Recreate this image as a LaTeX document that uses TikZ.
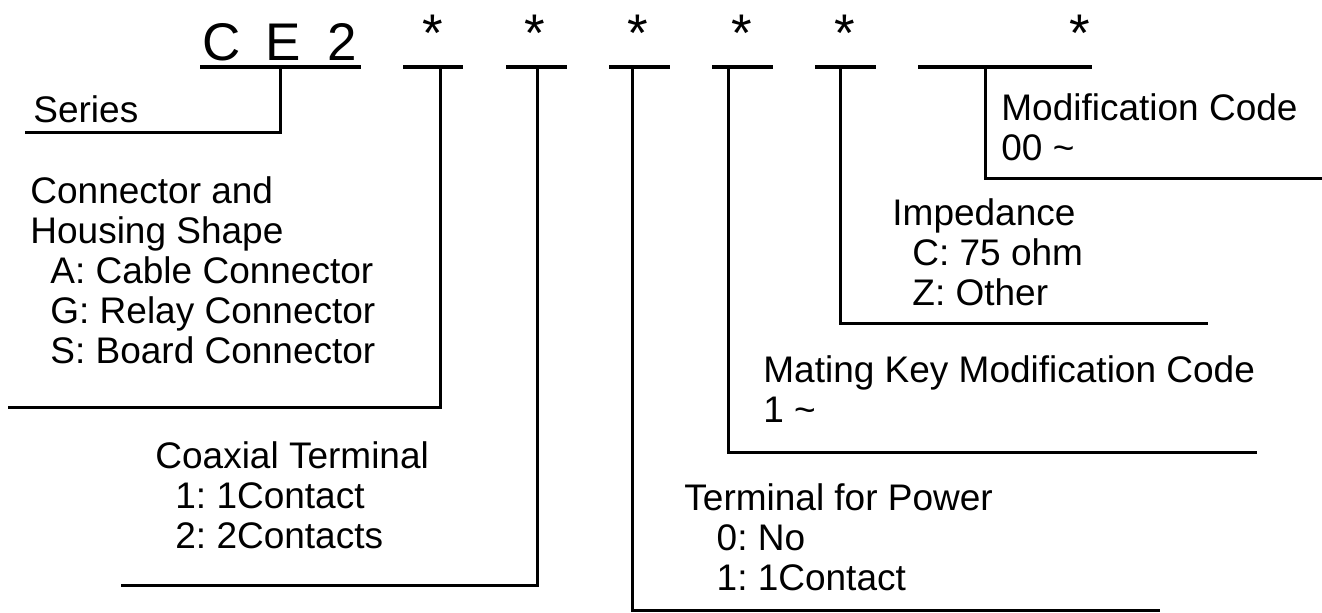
\documentclass[tikz,border=0pt]{standalone}
\usepackage{fontspec}
\setmainfont{Liberation Sans}
\frenchspacing
\newcommand{\codeind}[1][10pt]{\hspace*{#1}}

\begin{document}
\begin{tikzpicture}[x=0.5pt,y=-0.5pt,
	lbl/.style={anchor=base west,align=left,inner sep=0pt,font=\fontsize{18.5}{20}\selectfont},
	big/.style={inner sep=0pt,font=\fontsize{26.5}{30}\selectfont},
	bar/.style={line width=2pt},
	lead/.style={line width=1.5pt}]
	\useasboundingbox (0,0) rectangle (1322,612);
	% part number
	\node[big,anchor=base] (ltC) at (222,60) {C};
	\node[big,anchor=base] (ltE) at (283,60) {E};
	\node[big,anchor=base] (ltTwo) at (342,60) {2};
	\draw[bar] (200,67) -- (361,67);
	\foreach \x/\l/\r [count=\i] in {433/403/463,535/506/567,638/609/670,742/712/773,845/815/876,1080/918/1092} {
		\node[big,anchor=north] (st\i) at (\x,15) {*};
		\draw[bar] (\l,67) -- (\r,67);
	}
	% labels (anchored at the baseline of their last line)
	\node[lbl] (series) at (33,122) {Series};
	\node[lbl] (shape) at (30,363) {Connector and\\Housing Shape\\\codeind A: Cable Connector\\\codeind G: Relay Connector\\\codeind S: Board Connector};
	\node[lbl] (coax) at (155,548) {Coaxial Terminal\\\codeind 1: 1Contact\\\codeind 2: 2Contacts};
	\node[lbl] (power) at (684,590) {Terminal for Power\\\codeind[11pt] 0: No\\\codeind[11pt] 1: 1Contact};
	\node[lbl] (key) at (763,422) {Mating Key Modification Code\\1 \textasciitilde};
	\node[lbl] (imp) at (892,305) {Impedance\\\codeind C: 75 ohm\\\codeind Z: Other};
	\node[lbl] (mod) at (1001,160) {Modification Code\\00 \textasciitilde};
	% leaders
	\coordinate (tSeries) at (280,67);  \coordinate (eSeries) at (25,132);
	\coordinate (tShape) at (440,67);   \coordinate (eShape) at (8,407);
	\coordinate (tCoax) at (537,67);    \coordinate (eCoax) at (121,585);
	\coordinate (tPower) at (632,67);   \coordinate (ePower) at (1160,610);
	\coordinate (tKey) at (728,67);     \coordinate (eKey) at (1257,452);
	\coordinate (tImp) at (840,67);     \coordinate (eImp) at (1208,323);
	\coordinate (tMod) at (985,67);     \coordinate (eMod) at (1322,178);
	\draw[lead] (tSeries) |- (eSeries);
	\draw[lead] (tShape) |- (eShape);
	\draw[lead] (tCoax) |- (eCoax);
	\draw[lead] (tPower) |- (ePower);
	\draw[lead] (tKey) |- (eKey);
	\draw[lead] (tImp) |- (eImp);
	\draw[lead] (tMod) |- (eMod);
\end{tikzpicture}
\end{document}
